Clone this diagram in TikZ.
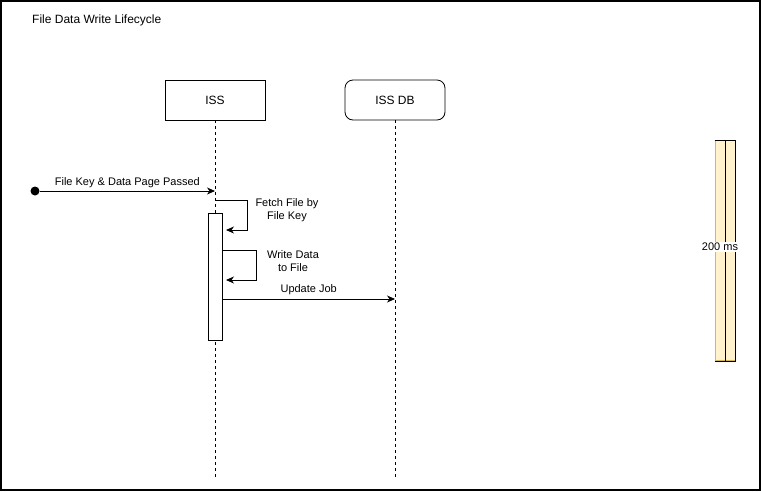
\documentclass[tikz,border=0pt]{standalone}
\usepackage{fontspec}
\setmainfont{Liberation Sans}
\usetikzlibrary{arrows.meta,positioning}
\definecolor{notefill}{HTML}{FFF2CC}
\definecolor{noteedge}{HTML}{D6B656}

\begin{document}
\begin{tikzpicture}[x=1pt, y=-1pt,
  head/.style={rectangle, draw, line width=0.8pt, minimum width=100pt,
    minimum height=40pt, font=\fontsize{12}{14}\selectfont, fill=white},
  life/.style={line width=0.8pt, dash pattern=on 3pt off 3pt},
  msg/.style={-{Stealth[length=8pt, width=7pt, inset=2.5pt]}, line width=0.8pt},
  lbl/.style={font=\fontsize{11}{13}\selectfont, align=center, inner sep=1pt},
  actbar/.style={rectangle, draw, line width=0.8pt, fill=white, inner sep=0pt,
    minimum width=14pt, minimum height=127pt}
]
  \useasboundingbox (0,0) rectangle (761,491);
  \draw[line width=1.5pt] (1,1) rectangle (760,490);
  \node[anchor=west, font=\fontsize{12}{14}\selectfont, inner sep=0pt] (title) at (32,20)
    {File Data Write Lifecycle};

  % lifelines
  \node[head] (iss) at (215,100) {ISS};
  \node[head, rounded corners=8pt] (issdb) at (395,100) {ISS DB};
  \coordinate (issend) at (215,478);
  \coordinate (issdbend) at (395,478);
  \draw[life] (iss.south) -- (issend);
  \draw[life] (issdb.south) -- (issdbend);

  % incoming message
  \node[circle, fill, inner sep=0pt, minimum size=9pt] (src) at (35,191) {};
  \coordinate (inpt) at (215,191);
  \draw[msg] (src) -- node[lbl, above=2pt] {File Key \& Data Page Passed} (inpt);

  % activation
  \node[actbar] (act) at (215,276.5) {};

  % self calls
  \coordinate (fetchs) at (215,200);
  \coordinate (fetche) at (226,230);
  \draw[msg] (fetchs) -- (247,200) |- (fetche);
  \node[lbl] (fetchlbl) at (287,210) {Fetch File by\\File Key};

  \coordinate (writes) at (222,250);
  \coordinate (writee) at (226,280);
  \draw[msg] (writes) -- (256,250) |- (writee);
  \node[lbl] (writelbl) at (293,261) {Write Data\\to File};

  \coordinate (updpt) at (395,299);
  \draw[msg] (act.east |- updpt) -- node[lbl, above=3pt] {Update Job} (updpt);

  % timing note
  \node[rectangle, fill=notefill, draw=noteedge, line width=0.8pt, inner sep=0pt,
    minimum width=20pt, minimum height=220pt] (tbar) at (725,250.5) {};
  \draw[line width=0.8pt] (tbar.north west) -- (tbar.north east) -- (tbar.south east)
    -- (tbar.south west);
  \draw[line width=0.8pt] (tbar.north) -- (tbar.south);
  \node[lbl, fill=white] (tlbl) at (720,247) {200 ms};
\end{tikzpicture}
\end{document}
